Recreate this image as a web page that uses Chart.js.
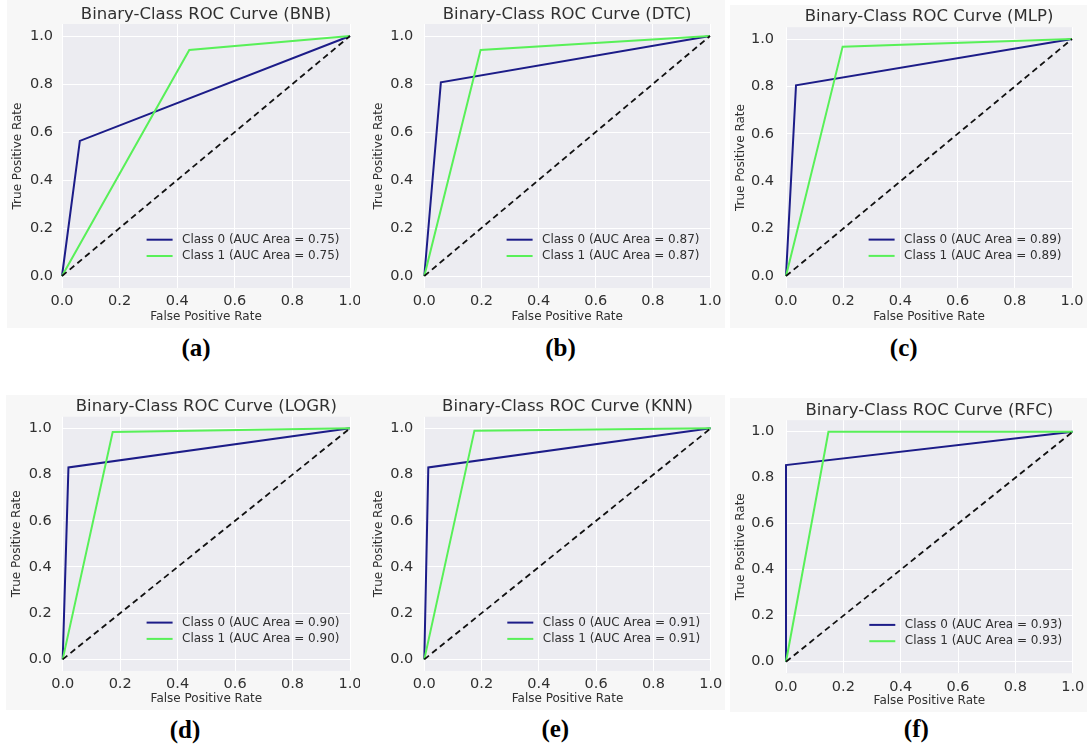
<!DOCTYPE html>
<html>
<head>
<meta charset="utf-8">
<script src="https://cdn.jsdelivr.net/npm/chart.js@4.4.1/dist/chart.umd.min.js"></script>
<style>
html,body{margin:0;padding:0;background:#ffffff;}
body{width:1087px;height:746px;position:relative;overflow:hidden;}
.fig{position:absolute;background:#f7f7f7;}
.cv{position:absolute;}
.lab{position:absolute;font-family:"Liberation Serif","Times New Roman",serif;font-weight:bold;font-size:25px;color:#000;transform:translate(-50%,-50%);white-space:nowrap;line-height:1;}
</style>
</head>
<body>
<script>
// ---------------- data ----------------
const modelNames = ['BNB', 'DTC', 'MLP', 'LOGR', 'KNN', 'RFC'];
const panelLetters = ['(a)', '(b)', '(c)', '(d)', '(e)', '(f)'];
const aucClass0 = ['0.75', '0.87', '0.89', '0.90', '0.91', '0.93'];
const aucClass1 = ['0.75', '0.87', '0.89', '0.90', '0.91', '0.93'];
// ROC points (False Positive Rate / True Positive Rate) per model
const class0FPR = [[0, 0.062, 1], [0, 0.058, 1], [0, 0.035, 1], [0, 0.020, 1], [0, 0.014, 1], [0, 0.0, 1]];
const class0TPR = [[0, 0.563, 1], [0, 0.807, 1], [0, 0.805, 1], [0, 0.831, 1], [0, 0.831, 1], [0, 0.855, 1]];
const class1FPR = [[0, 0.442, 1], [0, 0.197, 1], [0, 0.198, 1], [0, 0.174, 1], [0, 0.175, 1], [0, 0.148, 1]];
const class1TPR = [[0, 0.942, 1], [0, 0.942, 1], [0, 0.968, 1], [0, 0.984, 1], [0, 0.990, 1], [0, 1.0, 1]];
const chanceX = [0, 1];
const chanceY = [0, 1];
const xTicks = [0, 0.2, 0.4, 0.6, 0.8, 1.0];
const yTicks = [0, 0.2, 0.4, 0.6, 0.8, 1.0];
const xRange = [0, 1];
const yRange = [-0.05, 1.05];

// ---------------- layout (pixels) ----------------
const boxes = [
  {fig:[7,0,360,328],   cl:62,    cr:350,    ct:24,    cb:288,   titleY:15,    xTitleY:316.7, yTitleX:18.3,  yPad:9,    lab:[196,347]},
  {fig:[360,0,725,328], cl:424.3, cr:710,    ct:24,    cb:288,   titleY:15,    xTitleY:316.7, yTitleX:379,   yPad:11,   lab:[560.5,347]},
  {fig:[730,5,1087,328],cl:786,   cr:1072,   ct:27.2,  cb:287.9, titleY:17,    xTitleY:316.7, yTitleX:740.7, yPad:12,   lab:[903.7,347]},
  {fig:[6,395,360,710], cl:62.7,  cr:350,    ct:416.8, cb:670.9, titleY:406.7, xTitleY:699.3, yTitleX:17.3,  yPad:11,   lab:[185,729]},
  {fig:[360,395,725,710],cl:424.3,cr:710.7,  ct:416.8, cb:670.9, titleY:406.7, xTitleY:699.3, yTitleX:379.3, yPad:11,   lab:[555.3,728]},
  {fig:[730,398,1087,712],cl:786, cr:1072.7, ct:420.2, cb:673.2, titleY:411,   xTitleY:700.7, yTitleX:740.7, yPad:11.7, lab:[916.3,728]}
];

const COL0 = '#1c1c88';
const COL1 = '#58f058';
const TXT = '#303030';
const PLOTBG = '#ececf1';
Chart.defaults.font.family = "'DejaVu Sans', 'Liberation Sans', sans-serif";
Chart.defaults.color = TXT;

const bgPlugin = {
  id: 'plotBg',
  beforeDraw(chart) {
    const {ctx, chartArea: a} = chart;
    ctx.save();
    ctx.fillStyle = PLOTBG;
    ctx.fillRect(a.left, a.top, a.right - a.left, a.bottom - a.top);
    ctx.restore();
  }
};

const innerLegend = {
  id: 'innerLegend',
  afterDatasetsDraw(chart) {
    const {ctx, chartArea: a} = chart;
    const items = chart.data.datasets.filter(d => d.label);
    ctx.save();
    ctx.font = "12px 'DejaVu Sans', sans-serif";
    const w = Math.max(...items.map(d => ctx.measureText(d.label).width));
    const textX = a.right - 10.5 - w;
    const rowH = 16.3;
    items.forEach((d, k) => {
      const y = a.bottom - 32 - (items.length - 1 - k) * rowH;
      ctx.strokeStyle = d.borderColor;
      ctx.lineWidth = d.borderWidth;
      ctx.setLineDash([]);
      ctx.beginPath();
      ctx.moveTo(textX - 35.5, y);
      ctx.lineTo(textX - 9.5, y);
      ctx.stroke();
      ctx.fillStyle = TXT;
      ctx.textBaseline = 'middle';
      ctx.textAlign = 'left';
      ctx.fillText(d.label, textX, y);
    });
    ctx.restore();
  }
};

function pts(xs, ys) { return xs.map((x, k) => ({x: x, y: ys[k]})); }

boxes.forEach((b, i) => {
  const [fl, ft, fr, fb] = b.fig;
  const fig = document.createElement('div');
  fig.className = 'fig';
  fig.style.left = fl + 'px'; fig.style.top = ft + 'px';
  fig.style.width = (fr - fl) + 'px'; fig.style.height = (fb - ft) + 'px';
  document.body.appendChild(fig);

  const lab = document.createElement('div');
  lab.className = 'lab';
  lab.textContent = panelLetters[i];
  lab.style.left = b.lab[0] + 'px'; lab.style.top = b.lab[1] + 'px';
  document.body.appendChild(lab);

  const cLeft = fl, cTop = ft;
  const cRight = Math.min(1087, fr + 14), cBottom = fb;
  const W = cRight - cLeft, H = cBottom - cTop;
  const wrap = document.createElement('div');
  wrap.className = 'cv';
  wrap.style.left = cLeft + 'px'; wrap.style.top = cTop + 'px';
  wrap.style.width = W + 'px'; wrap.style.height = H + 'px';
  const cv = document.createElement('canvas');
  wrap.appendChild(cv);
  document.body.appendChild(wrap);

  const tSize = 16.5, tLH = 16.5;
  const tPadTop = b.titleY - cTop - tLH / 2;
  const tPadBottom = (b.ct - cTop) - tPadTop - tLH;
  const axLH = 12 * 1.2;

  new Chart(cv, {
    type: 'scatter',
    data: {
      datasets: [
        {label: 'Class 0 (AUC Area = ' + aucClass0[i] + ')', data: pts(class0FPR[i], class0TPR[i]),
         borderColor: COL0, backgroundColor: COL0, borderWidth: 2, showLine: true, pointRadius: 0, order: 2, clip: false},
        {label: 'Class 1 (AUC Area = ' + aucClass1[i] + ')', data: pts(class1FPR[i], class1TPR[i]),
         borderColor: COL1, backgroundColor: COL1, borderWidth: 2, showLine: true, pointRadius: 0, order: 1, clip: false},
        {label: '', data: pts(chanceX, chanceY),
         borderColor: '#111111', backgroundColor: '#111111', borderWidth: 1.8, borderDash: [6, 4], showLine: true, pointRadius: 0, order: 0, clip: false}
      ]
    },
    options: {
      responsive: true,
      maintainAspectRatio: false,
      animation: false,
      events: [],
      layout: {padding: {left: 0, top: 0, right: cRight - b.cr, bottom: 0}},
      plugins: {
        legend: {display: false},
        tooltip: {enabled: false},
        title: {
          display: true, text: 'Binary-Class ROC Curve (' + modelNames[i] + ')',
          fullSize: false, color: TXT,
          font: {size: tSize, weight: 'normal', lineHeight: 1},
          padding: {top: tPadTop, bottom: tPadBottom}
        }
      },
      scales: {
        x: {
          type: 'linear', min: xRange[0], max: xRange[1],
          afterBuildTicks: s => { s.ticks = xTicks.map(v => ({value: v})); },
          afterFit: s => { s.height = cBottom - b.cb; s.paddingLeft = 0; s.paddingRight = 0; },
          ticks: {padding: 5, font: {size: 14.5}, color: TXT, maxRotation: 0, autoSkip: false,
                  callback: v => Number(v).toFixed(1)},
          grid: {color: '#ffffff', lineWidth: 1, drawTicks: false},
          border: {display: false},
          title: {display: true, text: 'False Positive Rate', color: TXT,
                  font: {size: 12, lineHeight: 1.2}, padding: {top: 0, bottom: cBottom - b.xTitleY - axLH / 2}}
        },
        y: {
          type: 'linear', min: yRange[0], max: yRange[1],
          afterBuildTicks: s => { s.ticks = yTicks.map(v => ({value: v})); },
          afterFit: s => { s.width = b.cl - cLeft; s.paddingTop = 0; s.paddingBottom = 0; },
          ticks: {padding: b.yPad, font: {size: 14.5}, color: TXT, autoSkip: false,
                  callback: v => Number(v).toFixed(1)},
          grid: {color: '#ffffff', lineWidth: 1, drawTicks: false},
          border: {display: false},
          title: {display: true, text: 'True Positive Rate', color: TXT,
                  font: {size: 12, lineHeight: 1.2}, padding: {top: b.yTitleX - cLeft - axLH / 2, bottom: 0}}
        }
      }
    },
    plugins: [bgPlugin, innerLegend]
  });
});
</script>
</body>
</html>
